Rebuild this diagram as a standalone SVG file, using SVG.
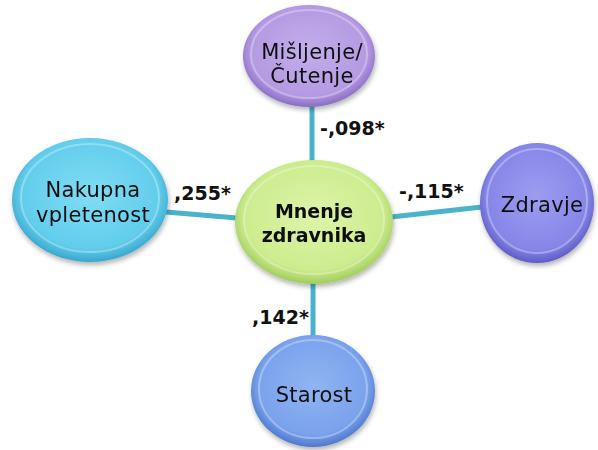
<svg xmlns="http://www.w3.org/2000/svg" width="598" height="450" viewBox="0 0 598 450">
  <defs>
    <style>
      .lbl { font-family: "DejaVu Sans", Verdana, sans-serif; font-size: 21px; letter-spacing: 0.3px; fill: #111; text-anchor: middle; }
      .hub { font-family: "DejaVu Sans", Verdana, sans-serif; font-size: 19px; font-weight: bold; fill: #111; text-anchor: middle; }
      .coef { font-family: "DejaVu Sans", Verdana, sans-serif; font-size: 19px; font-weight: bold; fill: #111; }
      .link { stroke: #4ab3cc; stroke-width: 5; fill: none; }
      .rim { fill: none; stroke: #ffffff; stroke-opacity: 0.3; stroke-width: 2; }
      .node { filter: url(#shadow); }
    </style>
    <filter id="shadow" x="-20%" y="-20%" width="140%" height="150%">
      <feGaussianBlur in="SourceAlpha" stdDeviation="2.5"/>
      <feOffset dx="1" dy="3" result="b"/>
      <feComponentTransfer><feFuncA type="linear" slope="0.3"/></feComponentTransfer>
      <feMerge><feMergeNode/><feMergeNode in="SourceGraphic"/></feMerge>
    </filter>
    <radialGradient id="gPurple" cx="50%" cy="45%" r="55%">
      <stop offset="0" stop-color="#c3aeec"/>
      <stop offset="0.8" stop-color="#b49ae2"/>
      <stop offset="1" stop-color="#8a6cc4"/>
    </radialGradient>
    <radialGradient id="gCyan" cx="50%" cy="45%" r="55%">
      <stop offset="0" stop-color="#80dcf4"/>
      <stop offset="0.8" stop-color="#62cdec"/>
      <stop offset="1" stop-color="#38a6cc"/>
    </radialGradient>
    <radialGradient id="gGreen" cx="50%" cy="45%" r="55%">
      <stop offset="0" stop-color="#ddf4aa"/>
      <stop offset="0.8" stop-color="#cdec8e"/>
      <stop offset="1" stop-color="#a0cc5c"/>
    </radialGradient>
    <radialGradient id="gViolet" cx="50%" cy="45%" r="55%">
      <stop offset="0" stop-color="#9d9cf0"/>
      <stop offset="0.8" stop-color="#8786e8"/>
      <stop offset="1" stop-color="#5e5cc6"/>
    </radialGradient>
    <radialGradient id="gBlue" cx="50%" cy="45%" r="55%">
      <stop offset="0" stop-color="#90b4f2"/>
      <stop offset="0.8" stop-color="#7aa2ec"/>
      <stop offset="1" stop-color="#4e78cc"/>
    </radialGradient>
  </defs>

  <rect width="598" height="450" fill="#ffffff"/>

  <!-- connectors from the hub to each factor -->
  <g id="connectors">
    <line class="link" x1="312" y1="105" x2="312" y2="162"/>
    <line class="link" x1="166" y1="212" x2="237" y2="218"/>
    <line class="link" x1="391" y1="217" x2="482" y2="207"/>
    <line class="link" x1="313" y1="282" x2="313" y2="338"/>
  </g>

  <g id="node-misljenje" class="node">
    <ellipse cx="309" cy="56" rx="66" ry="51" fill="url(#gPurple)"/>
    <ellipse class="rim" cx="309" cy="54" rx="58" ry="44"/>
    <text class="lbl" x="312" y="59">Mišljenje/</text>
    <text class="lbl" x="312" y="83">Čutenje</text>
  </g>

  <g id="node-nakupna" class="node">
    <ellipse cx="90" cy="200" rx="78" ry="62" fill="url(#gCyan)"/>
    <ellipse class="rim" cx="90" cy="198" rx="69" ry="54"/>
    <text class="lbl" x="93" y="197">Nakupna</text>
    <text class="lbl" x="93" y="222">vpletenost</text>
  </g>

  <g id="node-mnenje" class="node">
    <ellipse cx="314" cy="222" rx="79" ry="62" fill="url(#gGreen)"/>
    <ellipse class="rim" cx="314" cy="220" rx="70" ry="54"/>
    <text class="hub" x="314" y="218">Mnenje</text>
    <text class="hub" x="314" y="242">zdravnika</text>
  </g>

  <g id="node-zdravje" class="node">
    <ellipse cx="537" cy="203" rx="57" ry="60" fill="url(#gViolet)"/>
    <ellipse class="rim" cx="537" cy="201" rx="50" ry="52"/>
    <text class="lbl" x="542" y="212">Zdravje</text>
  </g>

  <g id="node-starost" class="node">
    <ellipse cx="313" cy="391" rx="62" ry="56" fill="url(#gBlue)"/>
    <ellipse class="rim" cx="313" cy="389" rx="54" ry="49"/>
    <text class="lbl" x="314" y="402">Starost</text>
  </g>

  <!-- correlation coefficients -->
  <g id="coefficients">
    <text class="coef" x="320" y="135">-,098*</text>
    <text class="coef" x="174" y="200">,255*</text>
    <text class="coef" x="399" y="198">-,115*</text>
    <text class="coef" x="252" y="324">,142*</text>
  </g>
</svg>
